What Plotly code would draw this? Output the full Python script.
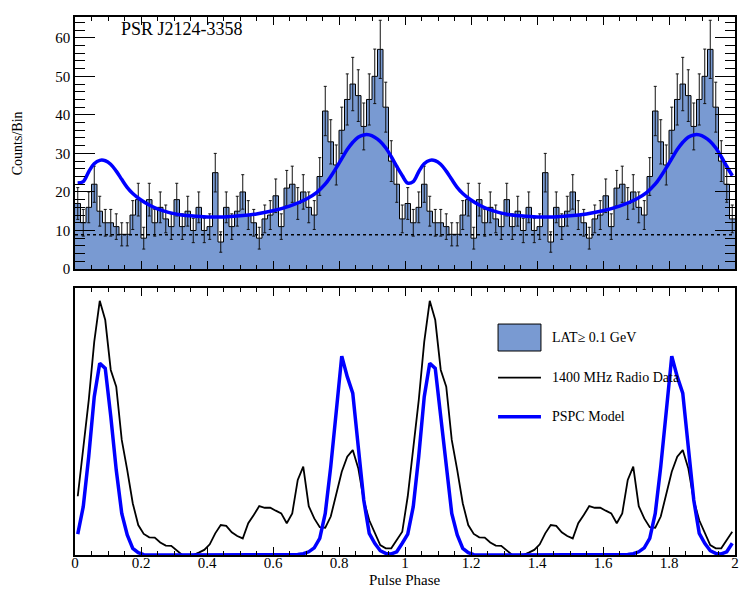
import numpy as np
import plotly.graph_objects as go

# ---------------- data ----------------
# LAT counts per bin (60 bins per rotation, shown twice)
counts = [17, 12, 16, 22, 15, 12, 12, 11, 9, 9,
          14, 18, 8, 18, 12, 16, 13, 11, 18, 11,
          15, 10, 16, 10, 11, 25, 7, 16, 11, 15,
          20, 14, 12, 8, 13, 14, 19, 11, 21, 22,
          17, 20, 16, 14, 24, 41, 33, 27, 36, 44,
          48, 45, 37, 44, 50, 57, 42, 28, 22, 13]
n_bins = 60
background_level = 8.9

# model curve over the histogram (phase, counts) for one rotation
curve_phase = [0.008, 0.025, 0.042, 0.058, 0.075, 0.092, 0.108, 0.125, 0.142, 0.158,
               0.175, 0.200, 0.225, 0.250, 0.283, 0.317, 0.350, 0.400, 0.450, 0.500,
               0.550, 0.600, 0.650, 0.700, 0.733, 0.758, 0.775, 0.792, 0.808, 0.825,
               0.842, 0.858, 0.875, 0.892, 0.908, 0.925, 0.942, 0.958, 0.975, 0.992]
curve_val = [22.3, 22.7, 25.3, 27.3, 28.2, 28.1, 27.2, 25.4, 23.2, 21.2,
             19.6, 17.9, 16.6, 15.6, 14.7, 14.1, 13.8, 13.5, 13.5, 13.8,
             14.3, 15.1, 16.3, 18.1, 19.9, 22.0, 24.0, 26.3, 28.6, 31.0,
             32.9, 34.2, 34.8, 34.8, 34.2, 33.1, 31.4, 29.2, 26.6, 24.2]

# 1400 MHz radio profile (arbitrary units, 60 samples per rotation)
radio = [0.22, 0.406, 0.58, 0.799, 0.952, 0.88, 0.693, 0.63, 0.431, 0.318,
         0.194, 0.112, 0.079, 0.066, 0.065, 0.047, 0.035, 0.034, 0.016, 0.0,
         0.0, 0.0, 0.009, 0.019, 0.04, 0.081, 0.112, 0.109, 0.085, 0.071,
         0.062, 0.119, 0.15, 0.183, 0.177, 0.177, 0.166, 0.156, 0.119, 0.156,
         0.281, 0.331, 0.183, 0.137, 0.104, 0.102, 0.144, 0.231, 0.312, 0.368,
         0.393, 0.325, 0.206, 0.13, 0.081, 0.037, 0.025, 0.025, 0.056, 0.087]

# PSPC model profile (arbitrary units, 60 samples per rotation)
pspc = [0.078, 0.181, 0.37, 0.593, 0.718, 0.699, 0.52, 0.318, 0.156, 0.075,
        0.025, 0.009, 0.001, 0, 0, 0, 0, 0, 0, 0,
        0, 0, 0, 0, 0, 0, 0, 0, 0, 0,
        0, 0, 0, 0, 0, 0, 0, 0, 0, 0,
        0.002, 0.005, 0.012, 0.027, 0.062, 0.156, 0.331, 0.537, 0.745, 0.668,
        0.606, 0.406, 0.206, 0.081, 0.044, 0.016, 0.006, 0.004, 0.012, 0.044]

x_tick_vals = [0, 0.2, 0.4, 0.6, 0.8, 1, 1.2, 1.4, 1.6, 1.8, 2]
x_tick_text = ["0", "0.2", "0.4", "0.6", "0.8", "1", "1.2", "1.4", "1.6", "1.8", "2"]

# ---------------- derived ----------------
c2 = np.array(counts * 2, dtype=float)
edges = np.arange(2 * n_bins + 1) / n_bins
centers = (np.arange(2 * n_bins) + 0.5) / n_bins
step_y = np.append(c2, c2[-1])
errs = np.sqrt(c2)

cph = np.concatenate([np.array(curve_phase), np.array(curve_phase) + 1])
cval = np.array(curve_val * 2)

r2 = np.array(radio * 2)
p2 = np.array(pspc * 2)

FILL = "rgb(121,154,210)"
FONT = "Liberation Serif"

fig = go.Figure()

# histogram fill + outline
fig.add_trace(go.Scatter(x=edges, y=step_y, mode="lines", line_shape="hv",
                         fill="tozeroy", fillcolor=FILL,
                         line=dict(color="black", width=1),
                         xaxis="x", yaxis="y", showlegend=False, hoverinfo="skip"))
# error bars
fig.add_trace(go.Scatter(x=centers, y=c2, mode="markers",
                         marker=dict(size=1, color="rgba(0,0,0,0)"),
                         error_y=dict(type="data", array=errs, visible=True,
                                      color="#111", thickness=1, width=1.5),
                         xaxis="x", yaxis="y", showlegend=False, hoverinfo="skip"))
# background dotted line
fig.add_trace(go.Scatter(x=[0, 2], y=[background_level, background_level], mode="lines",
                         line=dict(color="black", width=1.6, dash="dot"),
                         xaxis="x", yaxis="y", showlegend=False, hoverinfo="skip"))
# model curve
fig.add_trace(go.Scatter(x=cph, y=cval, mode="lines", line_shape="spline",
                         line=dict(color="#0000ff", width=3.5),
                         xaxis="x", yaxis="y", showlegend=False, hoverinfo="skip"))

# bottom panel
fig.add_trace(go.Scatter(x=centers, y=r2, mode="lines",
                         line=dict(color="black", width=1.8),
                         xaxis="x2", yaxis="y2", showlegend=False, hoverinfo="skip"))
fig.add_trace(go.Scatter(x=centers, y=p2, mode="lines",
                         line=dict(color="#0000ff", width=3.5),
                         xaxis="x2", yaxis="y2", showlegend=False, hoverinfo="skip"))

axis_common = dict(showline=True, linewidth=1.5, linecolor="black", mirror="ticks",
                   showgrid=False, zeroline=False, tickcolor="black", tickwidth=1,
                   tickfont=dict(family=FONT, size=15, color="black"))

fig.update_layout(
    width=743, height=592,
    margin=dict(l=75, r=4, t=17, b=37),
    paper_bgcolor="white", plot_bgcolor="white",
    xaxis=dict(domain=[0, 1], range=[0, 2], anchor="y", showticklabels=False,
               ticks="inside", ticklen=8, tickvals=x_tick_vals,
               minor=dict(ticks="inside", ticklen=4, dtick=0.05, tick0=0, tickcolor="black"),
               **axis_common),
    yaxis=dict(domain=[0.5316, 1], range=[0, 65.4], anchor="x",
               ticks="inside", ticklen=20, dtick=10, tick0=0,
               minor=dict(ticks="inside", ticklen=10, dtick=2, tick0=0, tickcolor="black"),
               **axis_common),
    xaxis2=dict(domain=[0, 1], range=[0, 2], anchor="y2", showticklabels=True,
                ticks="inside", ticklen=8, tickvals=x_tick_vals, ticktext=x_tick_text,
                ticklabelstandoff=-7,
                minor=dict(ticks="inside", ticklen=4, dtick=0.05, tick0=0, tickcolor="black"),
                **axis_common),
    yaxis2=dict(domain=[0, 0.4963], range=[0, 1], anchor="x2", showticklabels=False,
                ticks="", showline=True, linewidth=1.5, linecolor="black", mirror=True,
                showgrid=False, zeroline=False),
    font=dict(family=FONT, color="black"),
)

# legend drawn by hand in bottom panel
fig.add_shape(type="rect", xref="x2 domain", yref="y2 domain",
              x0=0.641, x1=0.706, y0=0.764, y1=0.865,
              fillcolor=FILL, line=dict(color="black", width=1))
fig.add_shape(type="line", xref="x2 domain", yref="y2 domain",
              x0=0.641, x1=0.706, y0=0.664, y1=0.664,
              line=dict(color="black", width=1.8))
fig.add_shape(type="line", xref="x2 domain", yref="y2 domain",
              x0=0.641, x1=0.706, y0=0.518, y1=0.518,
              line=dict(color="#0000ff", width=3.5))
for txt, yy in [("LAT\u2265 0.1 GeV", 0.815), ("1400 MHz Radio Data", 0.664), ("PSPC Model", 0.518)]:
    fig.add_annotation(text=txt, xref="x2 domain", yref="y2 domain", x=0.72, y=yy,
                       xanchor="left", yanchor="middle", showarrow=False,
                       font=dict(family=FONT, size=14, color="black"))

fig.add_annotation(text="PSR J2124-3358", xref="x domain", yref="y domain",
                   x=0.066, y=0.952, xanchor="left", yanchor="middle", showarrow=False,
                   font=dict(family=FONT, size=18, color="black"))
fig.add_annotation(text="Counts/Bin", xref="paper", yref="paper", x=-0.0858, y=0.766,
                   xanchor="center", yanchor="middle", textangle=-90, showarrow=False,
                   font=dict(family=FONT, size=14, color="black"))
fig.add_annotation(text="Pulse Phase", xref="paper", yref="paper", x=0.5, y=-0.0465,
                   xanchor="center", yanchor="middle", showarrow=False,
                   font=dict(family=FONT, size=15, color="black"))

fig.write_html("out.html", config={"displayModeBar": False},
               post_script="document.body.style.margin='0';")
